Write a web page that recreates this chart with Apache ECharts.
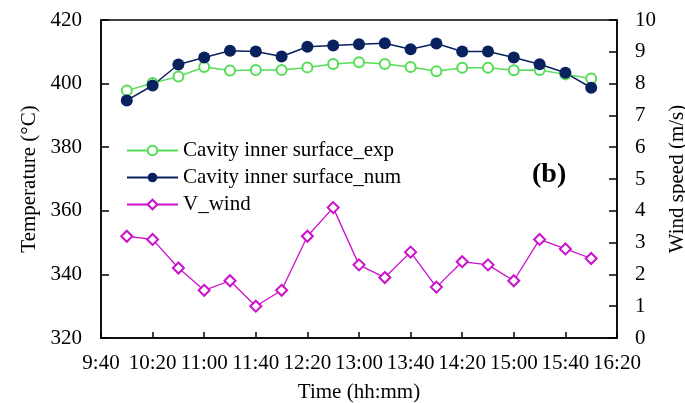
<!DOCTYPE html>
<html>
    <head>
        <meta charset="utf-8">
        <script src="https://cdn.jsdelivr.net/npm/echarts@6/dist/echarts.min.js"></script>
    </head>
    <body style="margin:0">
        <div id="main" style="width: 685px; height: 403px"></div>
        <script type="text/javascript">
            // measured times (hh:mm)
            const times = ['10:00','10:20','10:40','11:00','11:20','11:40','12:00','12:20','12:40','13:00',
                           '13:20','13:40','14:00','14:20','14:40','15:00','15:20','15:40','16:00'];
            const tempExp = [397.8, 400.2, 402.2, 405.2, 404.1, 404.3, 404.3, 405.1, 406.2, 406.7,
                             406.2, 405.2, 403.9, 405.0, 405.0, 404.2, 404.3, 402.9, 401.6];
            const tempNum = [394.7, 399.4, 406.0, 408.2, 410.3, 410.1, 408.5, 411.6, 412.0, 412.4,
                             412.7, 410.8, 412.6, 410.1, 410.1, 408.2, 406.1, 403.4, 398.7];
            const wind = [3.2, 3.1, 2.2, 1.5, 1.8, 1.0, 1.5, 3.2, 4.1, 2.3,
                          1.9, 2.7, 1.6, 2.4, 2.3, 1.8, 3.1, 2.8, 2.5];

            const START = 9 * 60 + 40; // axis starts at 9:40, x is minutes since then
            function toMin(t) {
                const p = t.split(':');
                return parseInt(p[0]) * 60 + parseInt(p[1]) - START;
            }
            function toLabel(v) {
                const m = START + v;
                const mm = m % 60;
                return Math.floor(m / 60) + ':' + (mm < 10 ? '0' + mm : mm);
            }
            function pairs(vals) {
                return vals.map((v, i) => [toMin(times[i]), v]);
            }

            const font = "'Liberation Serif', 'Times New Roman', serif";
            const black = '#000';
            const fs = 21;
            const axisLine = { show: true, lineStyle: { color: black, width: 1.5 } };

            var myChart = echarts.init(document.getElementById('main'));
            var option = {
                animation: false,
                textStyle: { fontFamily: font },
                grid: { left: 101, right: 68, top: 20, bottom: 65, show: true, outerBoundsMode: 'none',
                        borderColor: black, borderWidth: 1.5, backgroundColor: 'transparent' },
                legend: {
                    orient: 'vertical', left: 121, top: 135, itemWidth: 51, itemHeight: 12, itemGap: 6,
                    textStyle: { fontFamily: font, fontSize: fs, color: black },
                    data: ['Cavity inner surface_exp', 'Cavity inner surface_num', 'V_wind']
                },
                graphic: [{
                    type: 'text', left: 532, top: 161,
                    style: { text: '(b)', fontFamily: font, fontSize: 28, fontWeight: 'bold', fill: black }
                }],
                xAxis: {
                    type: 'value', min: 0, max: 400, interval: 40,
                    name: 'Time (hh:mm)', nameLocation: 'middle', nameGap: 44,
                    nameTextStyle: { fontFamily: font, fontSize: fs, color: black },
                    axisLine: axisLine,
                    axisTick: { inside: true, length: 6, lineStyle: { color: black, width: 1.5 } },
                    axisLabel: { margin: 15, fontFamily: font, fontSize: fs, color: black, formatter: toLabel },
                    splitLine: { show: false }
                },
                yAxis: [{
                    type: 'value', min: 320, max: 420, interval: 20,
                    name: 'Temperature (°C)', nameLocation: 'middle', nameGap: 56,
                    nameTextStyle: { fontFamily: font, fontSize: fs, color: black },
                    axisLine: axisLine,
                    axisTick: { inside: true, length: 8, lineStyle: { color: black, width: 1.5 } },
                    axisLabel: { margin: 19, fontFamily: font, fontSize: fs, color: black },
                    splitLine: { show: false }
                }, {
                    type: 'value', min: 0, max: 10, interval: 1, position: 'right',
                    name: 'Wind speed (m/s)', nameLocation: 'middle', nameGap: 42,
                    nameTextStyle: { fontFamily: font, fontSize: fs, color: black },
                    axisLine: axisLine,
                    axisTick: { inside: true, length: 8, lineStyle: { color: black, width: 1.5 } },
                    axisLabel: { margin: 18, fontFamily: font, fontSize: fs, color: black },
                    splitLine: { show: false }
                }],
                series: [{
                    name: 'Cavity inner surface_exp', type: 'line', yAxisIndex: 0,
                    data: pairs(tempExp), symbol: 'emptyCircle', symbolSize: 10,
                    lineStyle: { color: '#55dd55', width: 1.5 },
                    itemStyle: { color: '#55dd55', borderColor: '#55dd55', borderWidth: 2 }
                }, {
                    name: 'Cavity inner surface_num', type: 'line', yAxisIndex: 0,
                    data: pairs(tempNum), symbol: 'circle', symbolSize: 12,
                    lineStyle: { color: '#0a2160', width: 1.5 },
                    itemStyle: { color: '#0a2160' }
                }, {
                    name: 'V_wind', type: 'line', yAxisIndex: 1,
                    data: pairs(wind), symbol: 'emptyDiamond', symbolSize: 11,
                    lineStyle: { color: '#cc11cc', width: 1.3 },
                    itemStyle: { color: '#cc11cc', borderColor: '#cc11cc', borderWidth: 2 }
                }]
            };
            myChart.setOption(option);
        </script>
    </body>
</html>
